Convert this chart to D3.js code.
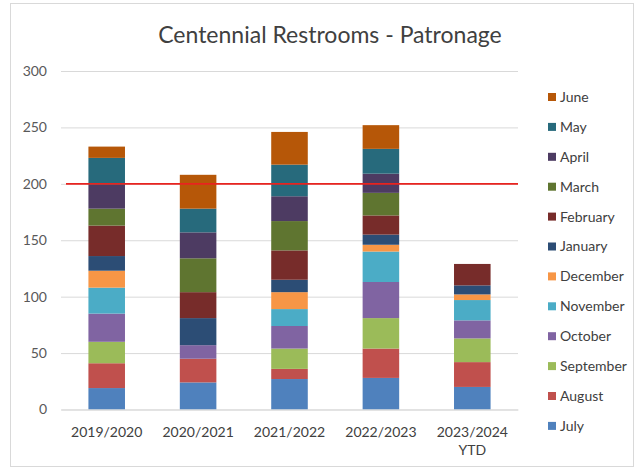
<!DOCTYPE html>
<html>
<head>
<meta charset="utf-8">
<script src="https://cdn.jsdelivr.net/npm/d3@7"></script>
<style>
  html, body { margin: 0; padding: 0; background: #fff; }
  svg { display: block; }
  text { font-family: Lato, "Liberation Sans", sans-serif; }
</style>
</head>
<body>
<svg id="chart" width="637" height="470"></svg>
<script>
const categories = ["2019/2020", "2020/2021", "2021/2022", "2022/2023", "2023/2024 YTD"];
const months = ["July", "August", "September", "October", "November", "December",
                "January", "February", "March", "April", "May", "June"];
const colors = ["#4F81BD", "#C0504D", "#9BBB59", "#8064A2", "#4BACC6", "#F79646",
                "#2C4D75", "#772C2A", "#5F7530", "#4D3B62", "#276A7C", "#B65708"];
// values per month, one entry per category
const July      = [19, 24, 27, 28, 20];
const August    = [22, 21,  9, 26, 22];
const September = [19,  0, 18, 27, 21];
const October   = [25, 12, 20, 32, 16];
const November  = [23,  0, 15, 27, 18];
const December  = [15,  0, 15,  6,  5];
const January   = [13, 24, 11,  9,  8];
const February  = [27, 23, 26, 17, 19];
const March     = [15, 30, 26, 20,  0];
const April     = [21, 23, 22, 17,  0];
const May       = [24, 21, 28, 22,  0];
const June      = [10, 30, 29, 21,  0];
const yTicks = [0, 50, 100, 150, 200, 250, 300];
const targetLine = 200;
const title = "Centennial Restrooms - Patronage";

const series = [July, August, September, October, November, December,
                January, February, March, April, May, June];

const svg = d3.select("#chart");
const W = 637, H = 470;
const FONT = "Lato, 'Liberation Sans', sans-serif";

// outer border
svg.append("rect").attr("x", 10.5).attr("y", 3.5).attr("width", W - 14).attr("height", H - 7)
  .attr("fill", "#fff").attr("stroke", "#d9d9d9").attr("stroke-width", 1);

const plot = { left: 61, right: 518, top: 71, bottom: 409.5 };

const x = d3.scaleBand().domain(categories).range([plot.left, plot.right])
  .paddingInner(0.6).paddingOuter(0.3);
const y = d3.scaleLinear().domain([0, 300]).range([plot.bottom, plot.top]);

// title
svg.append("text").attr("x", 330).attr("y", 43).attr("text-anchor", "middle")
  .attr("font-size", 23).attr("fill", "#404040").text(title);

// gridlines + y axis
const yAxis = d3.axisLeft(y).tickValues(yTicks).tickSize(-(plot.right - plot.left)).tickPadding(14);
const gy = svg.append("g").attr("transform", `translate(${plot.left},0)`).call(yAxis);
gy.select(".domain").remove();
gy.selectAll(".tick line").attr("stroke", "#d9d9d9").attr("stroke-width", 1);
gy.selectAll(".tick text").attr("fill", "#595959").attr("font-size", 14)
  .attr("font-family", FONT);

// stacked data
const table = categories.map((c, i) => {
  const row = { category: c };
  months.forEach((m, j) => row[m] = series[j][i]);
  return row;
});
const stack = d3.stack().keys(months)(table);
const color = d3.scaleOrdinal().domain(months).range(colors);

svg.append("g").selectAll("g").data(stack).join("g")
  .attr("fill", d => color(d.key))
  .selectAll("rect").data(d => d).join("rect")
  .attr("x", d => x(d.data.category))
  .attr("width", x.bandwidth())
  .attr("y", d => y(d[1]))
  .attr("height", d => y(d[0]) - y(d[1]));

// target line
svg.append("line").attr("x1", plot.left + 5).attr("x2", plot.right)
  .attr("y1", y(targetLine)).attr("y2", y(targetLine))
  .attr("stroke", "#E8231F").attr("stroke-width", 1.8);

// x axis labels
const gx = svg.append("g").attr("transform", `translate(0,${plot.bottom})`)
  .call(d3.axisBottom(x).tickSize(0).tickPadding(0).tickFormat(""));
gx.select(".domain").attr("stroke", "#d9d9d9");
gx.selectAll(".tick").each(function(d) {
  const parts = d.split(" ");
  const t = d3.select(this).append("text").attr("fill", "#404040")
    .attr("font-size", 14).attr("text-anchor", "middle")
    .attr("font-family", FONT);
  parts.forEach((p, k) => t.append("tspan").attr("x", 0).attr("y", 27 + k * 18).text(p));
});

// legend
const legend = svg.append("g");
const lg = legend.selectAll("g").data(months.slice().reverse()).join("g")
  .attr("transform", (d, i) => `translate(548,${97 + i * 29.9})`);
lg.append("rect").attr("x", 0).attr("y", -4).attr("width", 8).attr("height", 8)
  .attr("fill", d => color(d));
lg.append("text").attr("x", 12).attr("y", 0).attr("dy", "0.35em")
  .attr("font-size", 14).attr("fill", "#404040").text(d => d);
</script>
</body>
</html>
